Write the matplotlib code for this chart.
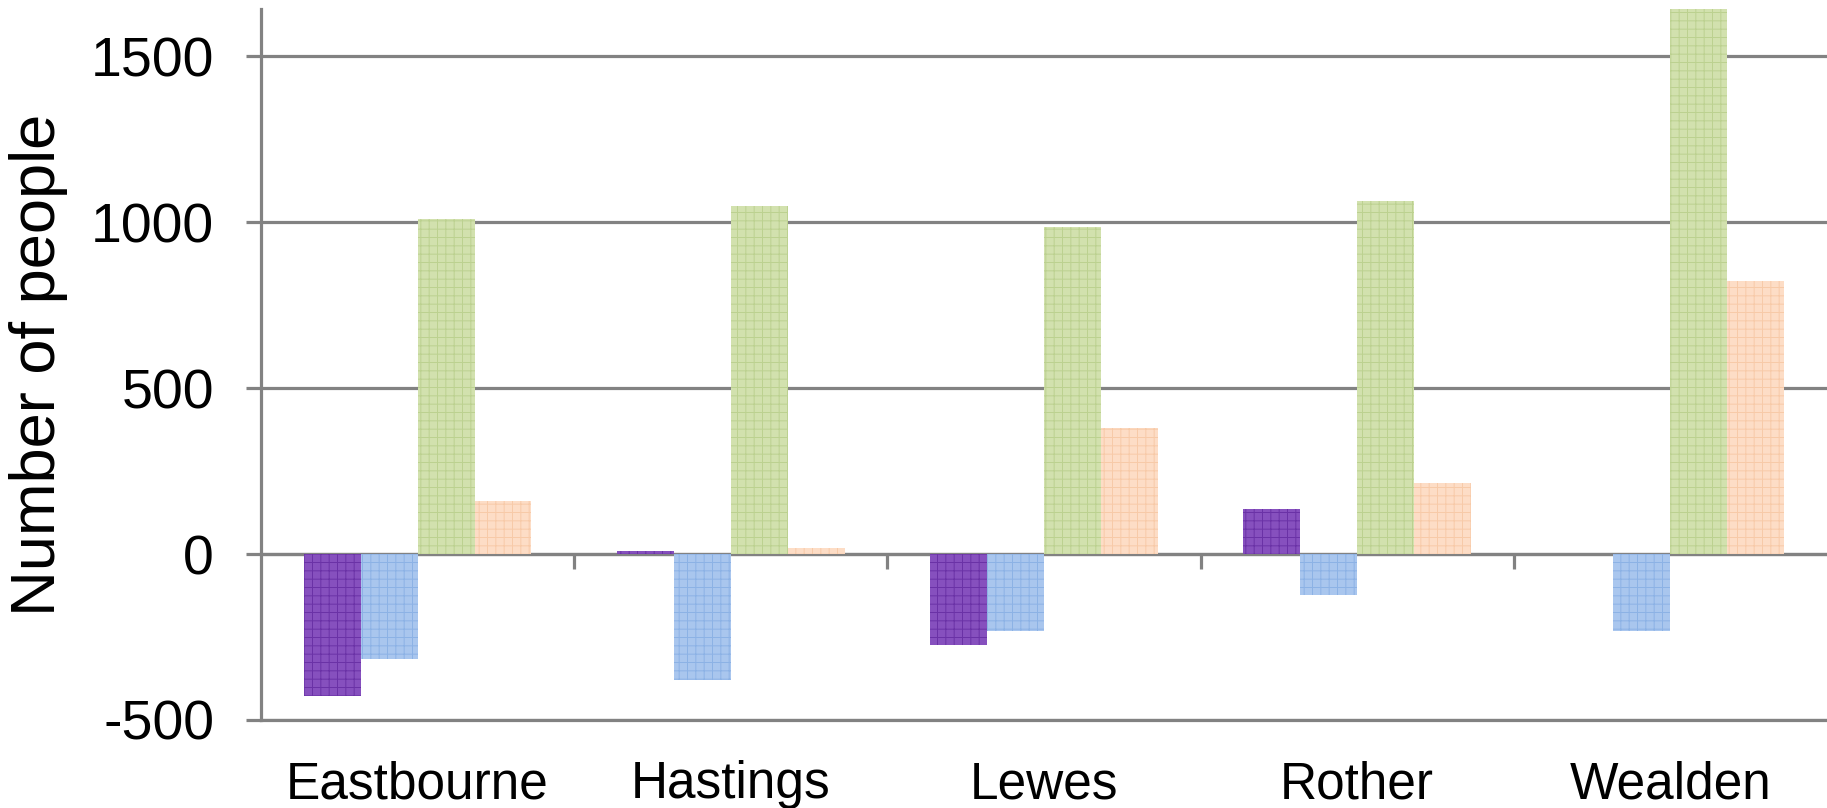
import numpy as np
import matplotlib
matplotlib.use("Agg")
import matplotlib.pyplot as plt

plt.rcParams['font.family'] = ['Liberation Sans', 'DejaVu Sans']
plt.rcParams['hatch.linewidth'] = 0.7

categories = ["Eastbourne", "Hastings", "Lewes", "Rother", "Wealden"]
series_a = [-429, 9, -273, 135, 0]        # purple
series_b = [-317, -379, -233, -124, -233]  # blue
series_c = [1008, 1050, 985, 1065, 1700]   # green
series_d = [161, 19, 380, 214, 822]        # orange
yticks = [-500, 0, 500, 1000, 1500]
ylabel = "Number of people"

faces = ['#8650BE', '#A9C6EE', '#D2E1AE', '#FDDDC6']
hatchc = ['#6A32A6', '#8CB2E5', '#BCD190', '#F7CAA8']

fig = plt.figure(figsize=(18.27, 8.08), dpi=100)
ax = fig.add_axes([261/1827, 1 - 720/808, 1 - 261/1827, (720 - 9)/808])

ymin, ymax = -500, 1642
ax.set_ylim(ymin, ymax)
ax.set_xlim(-0.5, len(categories) - 0.5)

x = np.arange(len(categories))
w = 1 / 5.5
grid_c = '#828282'
lw = 2.3

for gy in yticks:
    ax.axhline(gy, color=grid_c, lw=lw, zorder=1)

for i, vals in enumerate([series_a, series_b, series_c, series_d]):
    ax.bar(x + (i - 1.5) * w, vals, width=w, color=faces[i], edgecolor=hatchc[i],
           linewidth=0, hatch='++', zorder=2)

# spines
for s in ['top', 'right']:
    ax.spines[s].set_visible(False)
ax.spines['left'].set_color(grid_c)
ax.spines['left'].set_linewidth(lw)
ax.spines['bottom'].set_color(grid_c)
ax.spines['bottom'].set_linewidth(lw)
ax.spines['left'].set_zorder(3)

ax.set_yticks(yticks)
ax.set_yticklabels([str(v) for v in yticks])
ax.tick_params(axis='y', direction='out', length=10.8, width=lw, color=grid_c,
               labelsize=40, pad=23)

ax.set_xticks(x)
ax.set_xticklabels(categories)
ax.tick_params(axis='x', length=0, labelsize=37, pad=29)

# zero axis line with category-boundary ticks
zloc = (0 - ymin) / (ymax - ymin)
sec = ax.secondary_xaxis(zloc)
sec.set_xticks(x[:-1] + 0.5)
sec.set_xticklabels([])
sec.spines['bottom'].set_color(grid_c)
sec.spines['bottom'].set_linewidth(lw)
sec.tick_params(axis='x', direction='out', length=10.8, width=lw, color=grid_c)

ax.set_ylabel(ylabel, fontsize=45.5)
ax.yaxis.set_label_coords(-0.123, 0.5)

fig.savefig("out.png", dpi=100)
